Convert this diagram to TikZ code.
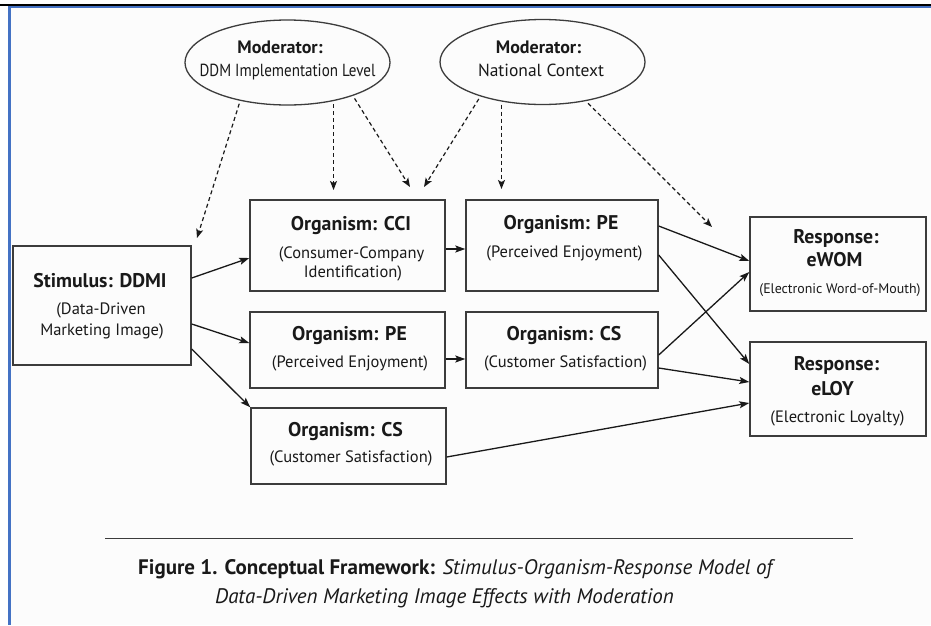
\documentclass[tikz,border=0pt]{standalone}
\usepackage{fontspec}
\usepackage{graphicx}
\setmainfont{PT Sans}
\usetikzlibrary{arrows.meta,shapes.geometric,calc}
\definecolor{frameblue}{RGB}{68,114,196}
\definecolor{ink}{RGB}{25,25,25}
\definecolor{edge}{RGB}{60,60,60}
\definecolor{paper}{RGB}{252,252,252}
\begin{document}
\begin{tikzpicture}[x=1pt,y=-1pt,
  box/.style={draw=edge, line width=1.4pt, fill=paper, inner sep=0pt, rectangle},
  modell/.style={draw=edge, line width=1.3pt, ellipse, inner sep=0pt, minimum width=205pt, minimum height=85pt},
  ttl/.style={font=\fontsize{19.8}{23}\selectfont\bfseries, text=ink, inner sep=0pt, anchor=base},
  mttl/.style={font=\fontsize{18}{21}\selectfont\bfseries, text=ink, inner sep=0pt, anchor=base},
  sub/.style={font=\fontsize{16.5}{19}\selectfont, text=ink, inner sep=0pt, anchor=base},
  msub/.style={font=\fontsize{17.5}{20}\selectfont, text=ink, inner sep=0pt, anchor=base},
  subsmall/.style={font=\fontsize{13.9}{16}\selectfont, text=ink, inner sep=0pt, anchor=base},
  arr/.style={draw=ink, line width=1.3pt, -{Stealth[length=10pt,width=7pt,inset=2pt]}},
  darr/.style={draw=ink, line width=1.2pt, dash pattern=on 4pt off 3pt, shorten <=3pt, -{Stealth[length=9pt,width=7pt,inset=2pt]}},
]
\useasboundingbox (0,0) rectangle (931,625);
% frame
\fill[paper] (8,6) rectangle (931,625);
\fill[black] (0,3.5) rectangle (931,6);
\fill[frameblue] (8,6) rectangle (931,8.3);
\fill[frameblue] (8,6) rectangle (10.5,625);

% moderators
\node[modell] (m1) at (287.5,62.5) {};
\node[modell] (m2) at (542.5,62) {};
\node[mttl] (m1a) at (280,53) {Moderator:};
\node[msub] (m1b) at (287.5,76) {\scalebox{0.86}[1]{DDM Implementation Level}};
\node[mttl] (m2a) at (538.5,53) {Moderator:};
\node[msub] (m2b) at (541,76) {National Context};

% boxes
\node[box, minimum width=178pt, minimum height=119pt] (stim) at (102,305.5) {};
\node[box, minimum width=195pt, minimum height=91pt] (cci) at (347.5,245.5) {};
\node[box, minimum width=195pt, minimum height=76pt] (pe1) at (347.5,350) {};
\node[box, minimum width=195pt, minimum height=76pt] (cs1) at (348.5,446) {};
\node[box, minimum width=192pt, minimum height=91pt] (pe2) at (562,245.5) {};
\node[box, minimum width=192pt, minimum height=76pt] (cs2) at (562,350) {};
\node[box, minimum width=176pt, minimum height=94pt] (ewom) at (838,264) {};
\node[box, minimum width=176pt, minimum height=94pt] (eloy) at (838,389) {};

% box texts
\node[ttl] (stimA) at (100,287) {Stimulus: DDMI};
\node[sub] (stimB) at (101,314) {(Data-Driven};
\node[sub] (stimC) at (102,335) {Marketing Image)};
\node[ttl] (cciA) at (351,230) {Organism: CCI};
\node[sub] (cciB) at (351.5,258) {(Consumer-Company};
\node[sub] (cciC) at (353,277) {Identification)};
\node[ttl] (pe1A) at (349.5,340) {Organism: PE};
\node[sub] (pe1B) at (350,367) {(Perceived Enjoyment)};
\node[ttl] (cs1A) at (345.5,436) {Organism: CS};
\node[sub] (cs1B) at (351,462) {(Customer Satisfaction)};
\node[ttl] (pe2A) at (561,229) {Organism: PE};
\node[sub] (pe2B) at (564.5,257) {(Perceived Enjoyment)};
\node[ttl] (cs2A) at (564,340) {Organism: CS};
\node[sub] (cs2B) at (565.5,367) {(Customer Satisfaction)};
\node[ttl] (ewA) at (836,243) {Response:};
\node[ttl] (ewB) at (834.5,266) {eWOM};
\node[subsmall] (ewC) at (840,293) {(Electronic Word-of-Mouth)};
\node[ttl] (elA) at (836.5,370) {Response:};
\node[ttl] (elB) at (832.5,395) {eLOY};
\node[sub] (elC) at (837.5,422) {(Electronic Loyalty)};

% solid arrows
\draw[arr] (stim.east |- 0,278) -- (cci.west |- 0,258);
\draw[arr] (stim.east |- 0,324) -- (pe1.west |- 0,343);
\draw[arr] (stim.east |- 0,349) -- (cs1.north west);
\draw[arr] (cci.east |- 0,249) -- (pe2.west |- 0,249);
\draw[arr] (pe1.east |- 0,359) -- (cs2.west |- 0,359);
\draw[arr] (pe2.east |- 0,226) -- (ewom.west |- 0,261);
\draw[arr] (pe2.east |- 0,255) -- (eloy.west |- 0,364);
\draw[arr] (cs2.east |- 0,355) -- (ewom.west |- 0,272);
\draw[arr] (cs2.east |- 0,368) -- (eloy.west |- 0,382);
\draw[arr] (cs1.east |- 0,457) -- (eloy.west |- 0,403);

% dashed moderator arrows
\coordinate (tA) at (197,238);
\coordinate (tB) at (m1.320 |- 0,190);
\coordinate (tC) at (410,187);
\coordinate (tD) at (424,187);
\coordinate (tE) at (m2.224 |- 0,189);
\coordinate (tF) at (712,227);
\draw[darr] (m1.219) -- (tA);
\draw[darr] (m1.320) -- (tB);
\draw[darr] (m1.333) -- (tC);
\draw[darr] (m2.209) -- (tD);
\draw[darr] (m2.224) -- (tE);
\draw[darr] (m2.318) -- (tF);

% caption
\draw[edge, line width=1pt] (105,538) -- (853,538);
\node[anchor=base west, inner sep=0pt, text=ink, font=\fontsize{21}{24}\selectfont] (cap1) at (138,574) {\textbf{Figure 1. Conceptual Framework:} \textit{Stimulus-Organism-Response Model of}};
\node[anchor=base west, inner sep=0pt, text=ink, font=\fontsize{21}{24}\selectfont\itshape] (cap2) at (215,603) {Data-Driven Marketing Image Effects with Moderation};
\end{tikzpicture}
\end{document}
